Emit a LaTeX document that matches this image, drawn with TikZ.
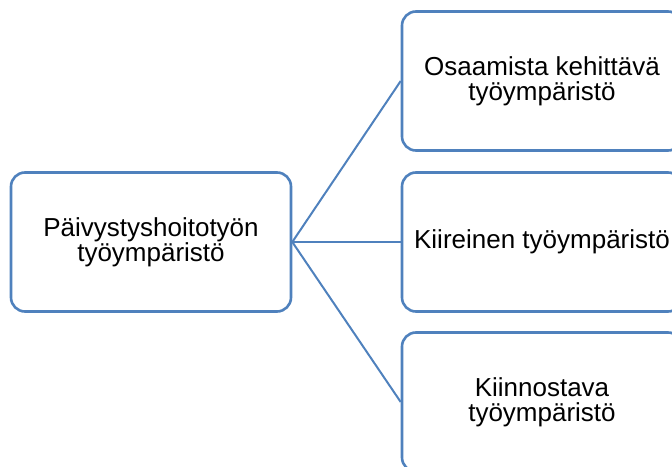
\documentclass[tikz,border=0pt]{standalone}
\usepackage{fontspec}
\setmainfont{Liberation Sans}
\definecolor{boxblue}{HTML}{4F81BD}
\tikzset{
  box/.style={draw=boxblue, line width=2.6pt, rounded corners=14pt, fill=white,
    minimum width=280pt, minimum height=139pt, align=center, inner sep=0pt,
    font=\fontsize{26}{25}\selectfont},
  link/.style={draw=boxblue, line width=2pt}
}
\begin{document}
\begin{tikzpicture}[x=1pt,y=1pt]
\useasboundingbox (0,0) rectangle (672,466);
\clip (0,0) rectangle (672,466);
\node[box] (root) at (151,224) {Päivystyshoitotyön\\työympäristö};
\node[box] (a) at (542,385) {Osaamista kehittävä\\työympäristö};
\node[box] (b) at (542,224) {Kiireinen työympäristö};
\node[box] (c) at (542,64) {Kiinnostava\\työympäristö};
\draw[link] (root.east) -- (a.west);
\draw[link] (root.east) -- (b.west);
\draw[link] (root.east) -- (c.west);
\end{tikzpicture}
\end{document}
